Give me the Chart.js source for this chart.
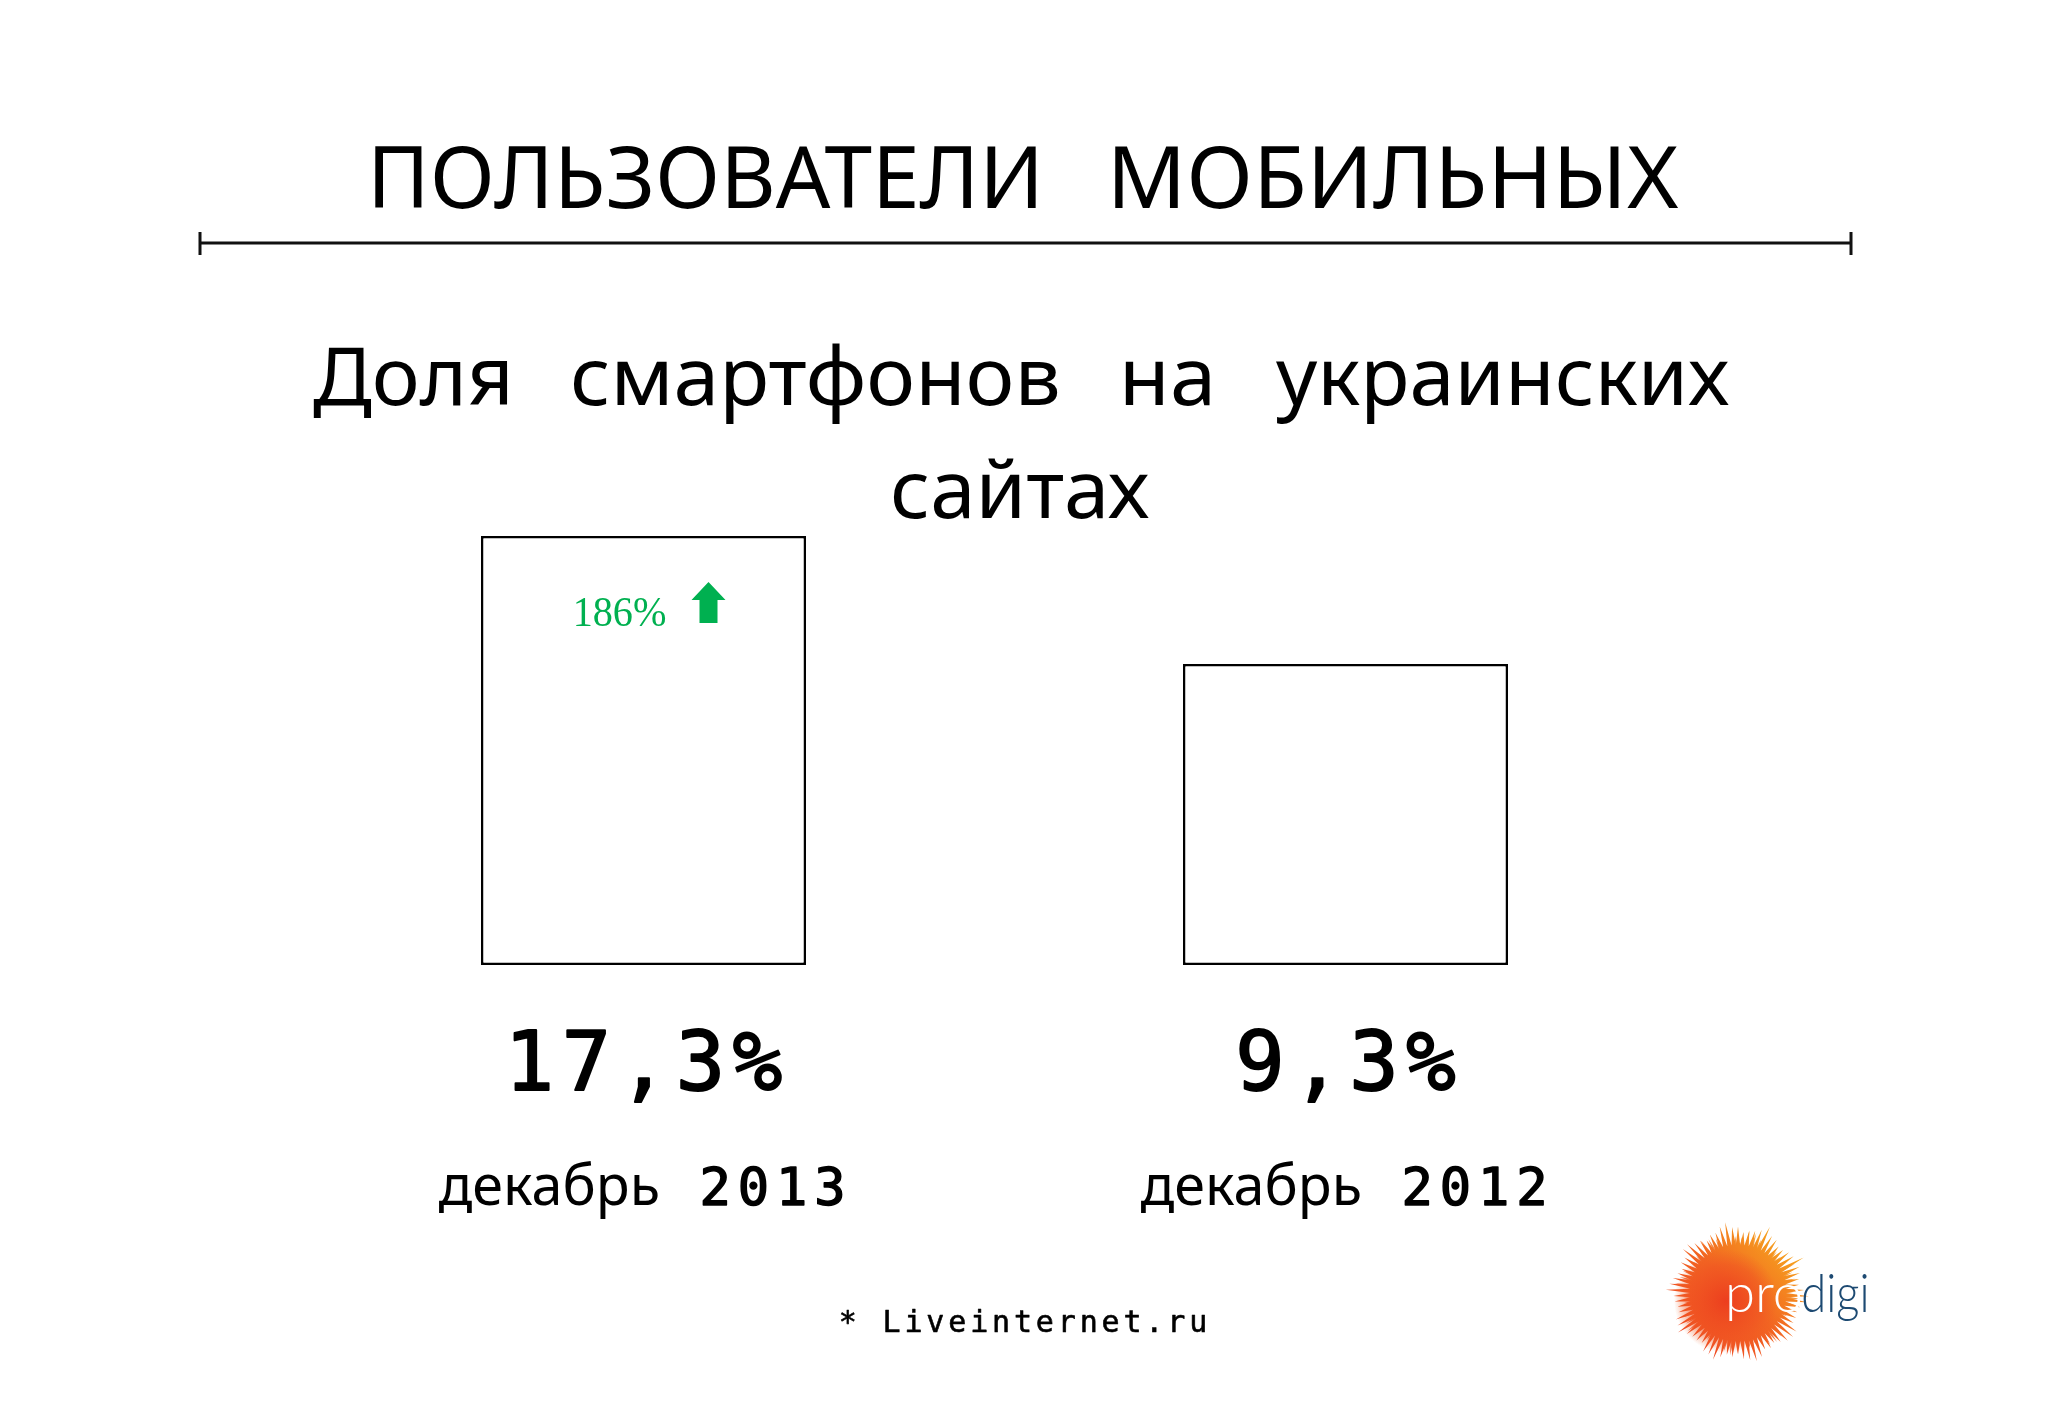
<!DOCTYPE html>
<html>
<head>
<meta charset="utf-8">
<title>Доля смартфонов на украинских сайтах</title>
<script src="https://cdn.jsdelivr.net/npm/chart.js@4.4.0/dist/chart.umd.min.js"></script>
<style>
  html, body { margin: 0; padding: 0; background: #ffffff; }
  #wrap { width: 2048px; height: 1418px; position: relative; }
</style>
</head>
<body>
<div id="wrap"><canvas id="shareChart"></canvas></div>
<script>
// --- данные ---
const periods = ['декабрь 2013', 'декабрь 2012'];
const months = ['декабрь', 'декабрь'];
const years = ['2013', '2012'];
const shares = [17.3, 9.3];
const valueLabels = ['17,3%', '9,3%'];
const growthLabel = '186%';
const axisMin = -9.5;   // слайд рисует столбцы не от нуля
const axisMax = 17.3;

// растягивает текст по ширине между x0 и x1
function fitText(ctx, text, x0, x1, baseline, font, color) {
  ctx.save();
  ctx.font = font;
  ctx.fillStyle = color;
  ctx.textAlign = 'left';
  ctx.textBaseline = 'alphabetic';
  const m = ctx.measureText(text);
  const ink = m.actualBoundingBoxLeft + m.actualBoundingBoxRight;
  ctx.translate(x0, baseline);
  ctx.scale((x1 - x0) / ink, 1);
  ctx.fillText(text, m.actualBoundingBoxLeft, 0);
  ctx.restore();
}

// моноширинный текст по ячейкам (цифровой шрифт слайда)
function cellText(ctx, text, cx, baseline, font, pitch, color, weight) {
  ctx.save();
  ctx.font = font;
  ctx.fillStyle = color;
  ctx.strokeStyle = color;
  ctx.lineWidth = weight || 0;
  ctx.lineJoin = 'round';
  ctx.textAlign = 'center';
  ctx.textBaseline = 'alphabetic';
  const chars = Array.from(text);
  chars.forEach((ch, i) => {
    const x = cx + (i - (chars.length - 1) / 2) * pitch;
    ctx.fillText(ch, x, baseline);
    if (weight) ctx.strokeText(ch, x, baseline);
  });
  ctx.restore();
}

function spikyBall(ctx, cx, cy, inner, outer, n, phase, fill) {
  ctx.fillStyle = fill;
  ctx.beginPath();
  for (let i = 0; i < n; i++) {
    const a = (i / n) * Math.PI * 2 + phase;
    const a2 = ((i + 0.5) / n) * Math.PI * 2 + phase;
    const len = outer - 10 * Math.abs(Math.sin(i * 2.7)) - 4 * Math.abs(Math.cos(i * 1.3));
    const px = cx + Math.cos(a) * inner, py = cy + Math.sin(a) * inner;
    if (i === 0) ctx.moveTo(px, py); else ctx.lineTo(px, py);
    ctx.lineTo(cx + Math.cos(a2) * len, cy + Math.sin(a2) * len);
  }
  ctx.closePath();
  ctx.fill();
}

function drawLogo(ctx) {
  const cx = 1738, cy = 1293;
  ctx.save();
  const g1 = ctx.createLinearGradient(cx - 60, cy + 60, cx + 60, cy - 60);
  g1.addColorStop(0, '#ee4323');
  g1.addColorStop(0.5, '#f26522');
  g1.addColorStop(1, '#f7b21d');
  spikyBall(ctx, cx, cy, 48, 75, 70, 0, g1);
  ctx.globalAlpha = 0.85;
  spikyBall(ctx, cx, cy, 40, 67, 55, 0.04, g1);
  ctx.globalAlpha = 1;
  const core = ctx.createRadialGradient(cx - 12, cy + 8, 0, cx - 12, cy + 8, 52);
  core.addColorStop(0, 'rgba(236,60,30,0.95)');
  core.addColorStop(0.7, 'rgba(240,85,34,0.6)');
  core.addColorStop(1, 'rgba(240,95,34,0)');
  ctx.fillStyle = core;
  ctx.beginPath();
  ctx.arc(cx - 12, cy + 8, 52, 0, Math.PI * 2);
  ctx.fill();
  ctx.restore();
  // подпись prodigi
  fitText(ctx, 'pro', 1729, 1801, 1312, '300 54px Lato', '#ffffff');
  fitText(ctx, 'digi', 1803, 1867, 1312, '300 54px Lato', '#1d4a72');
}

const slidePlugin = {
  id: 'slideText',
  afterDraw(chart) {
    const { ctx, chartArea } = chart;
    const meta = chart.getDatasetMeta(0);
    const sans = '"Noto Sans", "Open Sans", sans-serif';
    const mono = '"DejaVu Sans Mono", monospace';

    // заголовок
    fitText(ctx, 'ПОЛЬЗОВАТЕЛИ', 375, 1036, 208, '86px ' + sans, '#000');
    fitText(ctx, 'МОБИЛЬНЫХ', 1115, 1679, 208, '86px ' + sans, '#000');

    // линия под заголовком
    ctx.save();
    ctx.strokeStyle = '#111';
    ctx.lineWidth = 3;
    ctx.beginPath();
    ctx.moveTo(200, 243); ctx.lineTo(1851, 243);
    ctx.moveTo(200, 232); ctx.lineTo(200, 255);
    ctx.moveTo(1851, 232); ctx.lineTo(1851, 255);
    ctx.stroke();
    ctx.restore();

    // подзаголовок
    const sub = '81px ' + sans;
    fitText(ctx, 'Доля', 313, 507, 405, sub, '#000');
    fitText(ctx, 'смартфонов', 573, 1058, 405, sub, '#000');
    fitText(ctx, 'на', 1125, 1210, 405, sub, '#000');
    fitText(ctx, 'украинских', 1276, 1729, 405, sub, '#000');
    fitText(ctx, 'сайтах', 893, 1149, 518, sub, '#000');

    // значения и подписи под столбцами
    meta.data.forEach((bar, i) => {
      cellText(ctx, valueLabels[i], bar.x, chartArea.bottom + 125, '82px ' + mono, 57, '#000', 2);
      fitText(ctx, months[i], bar.x - 205, bar.x + 14, chartArea.bottom + 240, '56px ' + sans, '#000');
      cellText(ctx, years[i], bar.x + 129, chartArea.bottom + 240, '52px ' + mono, 38.3, '#000', 1.5);
    });

    // рост 186% со стрелкой
    const b0 = meta.data[0];
    fitText(ctx, growthLabel, b0.x - 68, b0.x + 22, b0.y + 90, '42px "Liberation Serif", serif', '#00b050');
    ctx.save();
    ctx.fillStyle = '#00b050';
    const ax = b0.x + 65, top = b0.y + 46;
    ctx.beginPath();
    ctx.moveTo(ax, top);
    ctx.lineTo(ax + 17, top + 18);
    ctx.lineTo(ax + 9, top + 18);
    ctx.lineTo(ax + 9, top + 41);
    ctx.lineTo(ax - 9, top + 41);
    ctx.lineTo(ax - 9, top + 18);
    ctx.lineTo(ax - 17, top + 18);
    ctx.closePath();
    ctx.fill();
    ctx.restore();

    // источник
    cellText(ctx, '* Liveinternet.ru', 1023, 1332, '30px ' + mono, 21.9, '#000', 0.6);

    drawLogo(ctx);
  }
};

new Chart(document.getElementById('shareChart'), {
  type: 'bar',
  data: {
    labels: periods,
    datasets: [{
      label: 'Доля смартфонов',
      data: shares,
      base: axisMin,
      backgroundColor: '#ffffff',
      borderColor: '#000000',
      borderWidth: 2.5,
      borderSkipped: false,
      categoryPercentage: 1,
      barPercentage: 0.463
    }]
  },
  options: {
    responsive: true,
    maintainAspectRatio: false,
    animation: false,
    layout: { padding: { left: 292.5, right: 351.5, top: 536, bottom: 453 } },
    plugins: {
      legend: { display: false },
      tooltip: { enabled: false }
    },
    scales: {
      x: { display: false },
      y: { display: false, min: axisMin, max: axisMax }
    }
  },
  plugins: [slidePlugin]
});
</script>
</body>
</html>
